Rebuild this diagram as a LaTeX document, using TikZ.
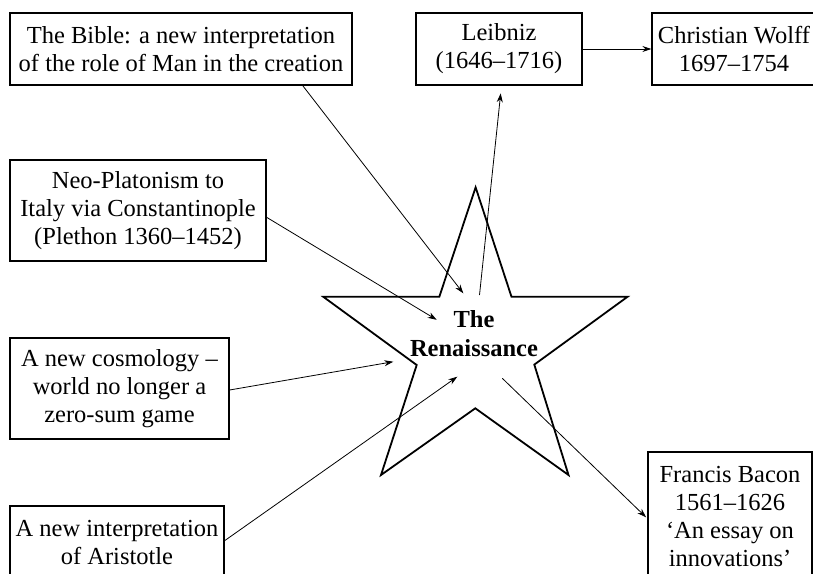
\documentclass[tikz,border=0pt]{standalone}
\usepackage{fontspec}
\setmainfont{Liberation Serif}
\usetikzlibrary{arrows.meta}
\begin{document}
\begin{tikzpicture}[x=1pt,y=-1pt,
  box/.style={draw, line width=1.2pt, align=center, inner sep=0pt,
    font=\fontsize{24.5}{28}\selectfont},
  conn/.style={line width=0.8pt, -{Stealth[length=9pt,width=6pt]}},
  starline/.style={line width=1.8pt, line join=miter}]
\useasboundingbox (0,0) rectangle (813,573);
% boxes
\node[box, minimum width=342pt, minimum height=72pt] (bible) at (181,49)
  {The Bible: a new interpretation\\of the role of Man in the creation};
\node[box, minimum width=166pt, minimum height=72pt] (leib) at (499,49)
  {Leibniz\\(1646–1716)};
\node[box, minimum width=164pt, minimum height=72pt] (wolff) at (734,49)
  {Christian Wolff\\1697–1754};
\node[box, minimum width=256pt, minimum height=101pt] (neo) at (138,210.5)
  {Neo-Platonism to\\Italy via Constantinople\\(Plethon 1360–1452)};
\node[box, minimum width=219pt, minimum height=101pt] (cosmo) at (119.5,388.5)
  {A new cosmology –\\world no longer a\\zero-sum game};
\node[box, minimum width=214pt, minimum height=72pt] (arist) at (117,542)
  {A new interpretation\\of Aristotle};
\node[box, minimum width=164pt, minimum height=128pt] (bacon) at (730,516)
  {Francis Bacon\\1561–1626\\‘An essay on\\innovations’};
% star
\draw[starline] (475.6,187.3) -- (439.3,296.8) -- (323.3,296.8) -- (416.7,365)
  -- (381,475) -- (475.3,408.3) -- (568.5,475) -- (534.3,364.6)
  -- (627.5,296.8) -- (511.5,296.8) -- cycle;
\node[align=center, font=\fontsize{24.5}{29}\selectfont\bfseries] (ren) at (474,334)
  {The\\Renaissance};
% connector ends
\coordinate (t1) at (463.3,293.3);
\coordinate (t2) at (436.7,319.8);
\coordinate (t3) at (393.3,361.7);
\coordinate (t4) at (457.3,376.7);
\coordinate (s5) at (479.5,295);
\coordinate (s7) at (502.3,378.3);
% connectors
\draw[conn] ([xshift=121.7pt]bible.south) -- (t1);
\draw[conn] ([yshift=-6.8pt]neo.east) -- (t2);
\draw[conn] ([yshift=-1.5pt]cosmo.east) -- (t3);
\draw[conn] ([yshift=1.3pt]arist.east) -- (t4);
\draw[conn] (s5) -- ([xshift=1.7pt,yshift=-7.7pt]leib.south);
\draw[conn] (leib.east) -- (wolff.west);
\draw[conn] (s7) -- ([xshift=-1.3pt,yshift=-1.3pt]bacon.west);
\end{tikzpicture}
\end{document}
